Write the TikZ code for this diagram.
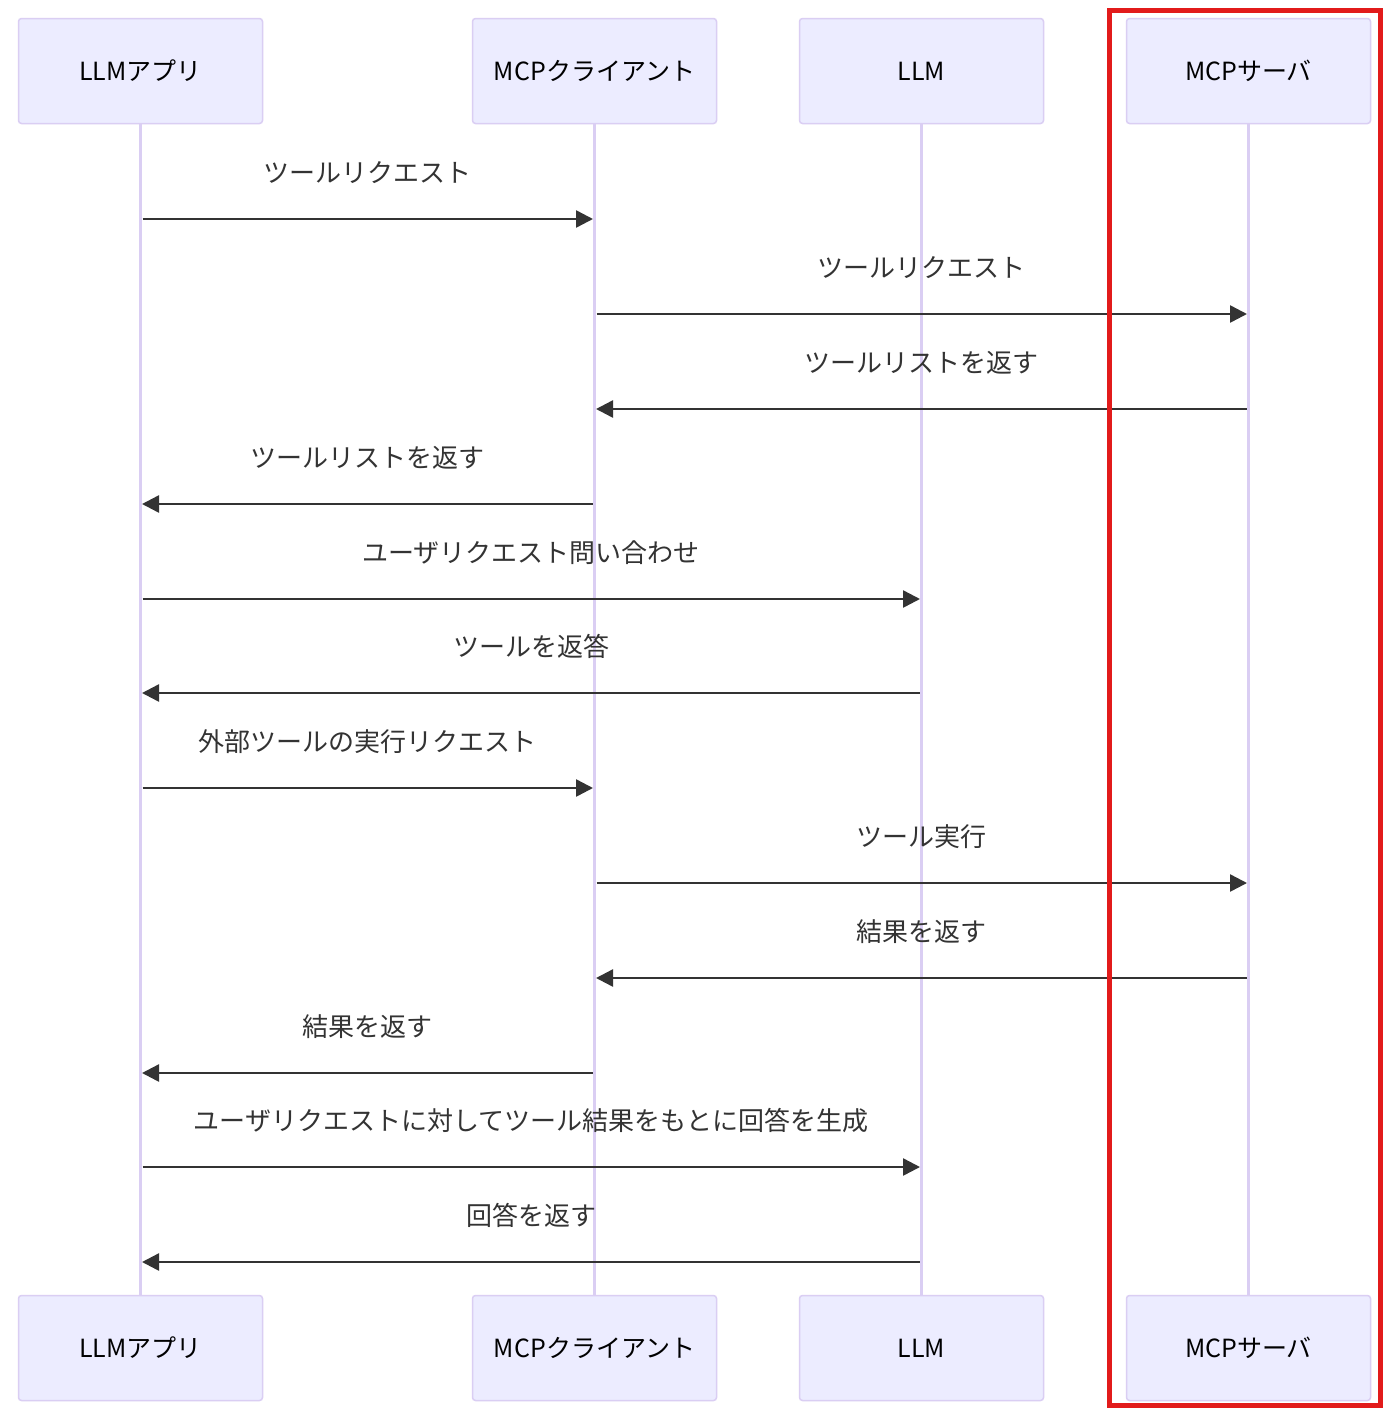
\documentclass[tikz,border=0pt]{standalone}
\usepackage{fontspec}
\setmainfont{Noto Sans CJK JP}
\usetikzlibrary{arrows.meta,calc}
\definecolor{actfill}{HTML}{ECECFF}
\definecolor{actline}{HTML}{DACEF3}
\definecolor{msgc}{HTML}{333333}
\definecolor{redbox}{HTML}{E21B1B}
\begin{document}
\begin{tikzpicture}[x=1pt,y=-1pt,
  actor/.style={draw=actline, line width=1.5pt, fill=actfill, rounded corners=3pt,
    minimum width=244pt, minimum height=105pt, inner sep=0pt,
    font=\fontsize{25}{30}\selectfont, text=black},
  life/.style={draw=actline, line width=2.5pt},
  msg/.style={draw=msgc, line width=2.5pt, -{Triangle[length=17pt,width=17pt]},
    shorten <=2pt, shorten >=1.5pt},
  lbl/.style={anchor=base, font=\fontsize{26}{30}\selectfont, text=msgc, inner sep=0pt},
  hilite/.style={draw=redbox, line width=5pt}]
\useasboundingbox (0,0) rectangle (1389,1416);
\fill[white] (0,0) rectangle (1389,1416);
% actors top
\node[actor] (A1) at (140.5,71) {LLMアプリ};
\node[actor] (B1) at (594.5,71) {MCPクライアント};
\node[actor] (C1) at (921.5,71) {LLM};
\node[actor] (D1) at (1248.5,71) {MCPサーバ};
% actors bottom
\node[actor] (A2) at (140.5,1348) {LLMアプリ};
\node[actor] (B2) at (594.5,1348) {MCPクライアント};
\node[actor] (C2) at (921.5,1348) {LLM};
\node[actor] (D2) at (1248.5,1348) {MCPサーバ};
% lifelines
\foreach \n in {A,B,C,D} \draw[life] (\n1.south) -- (\n2.north);
% messages
\foreach \f/\t/\y/\txt [count=\i] in {
  A1/B1/219/ツールリクエスト,
  B1/D1/314/ツールリクエスト,
  D1/B1/409/ツールリストを返す,
  B1/A1/504/ツールリストを返す,
  A1/C1/599/ユーザリクエスト問い合わせ,
  C1/A1/693/ツールを返答,
  A1/B1/788/外部ツールの実行リクエスト,
  B1/D1/883/ツール実行,
  D1/B1/978/結果を返す,
  B1/A1/1073/結果を返す,
  A1/C1/1167/ユーザリクエストに対してツール結果をもとに回答を生成,
  C1/A1/1262/回答を返す}{
  \coordinate (s\i) at (\f.south |- 0,\y);
  \coordinate (e\i) at (\t.south |- 0,\y);
  \draw[msg] (s\i) -- (e\i);
  \node[lbl] (L\i) at ($(s\i)!0.5!(e\i)+(0,-37)$) {\txt};
}
% highlight box
\draw[hilite] (1109.5,10.5) rectangle (1380,1405);
\end{tikzpicture}
\end{document}
